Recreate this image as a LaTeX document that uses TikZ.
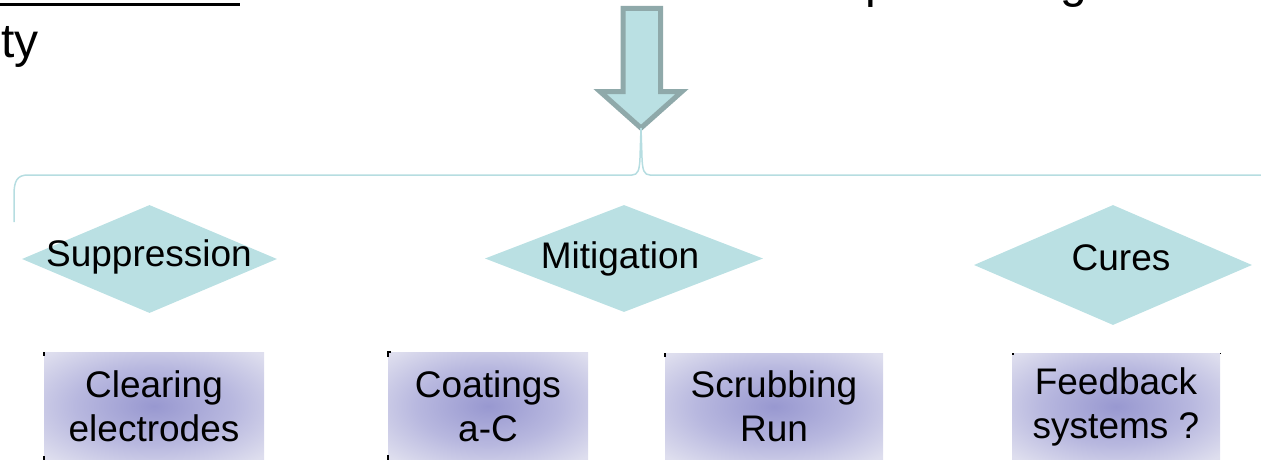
\documentclass[tikz,border=0pt]{standalone}
\usepackage{fontspec}
\setmainfont{Liberation Sans}
\usetikzlibrary{shapes.geometric}

\definecolor{diafill}{RGB}{186,224,227}
\definecolor{arrowline}{RGB}{143,169,170}
\definecolor{bracecol}{RGB}{182,221,225}
\definecolor{boxin}{RGB}{152,152,208}
\definecolor{boxmid}{RGB}{184,184,223}
\definecolor{boxout}{RGB}{222,222,238}

\pgfdeclareradialshading{boxglow}{\pgfpoint{0bp}{0bp}}{%
  color(0bp)=(boxin); color(18bp)=(boxmid); color(34bp)=(boxout); color(50bp)=(boxout)}

\tikzset{
  dia/.style={diamond, fill=diafill, draw=none, inner sep=0pt},
  lbl/.style={font=\fontsize{37}{44}\selectfont, text=black, inner sep=0pt, anchor=base},
  box/.style={shading=boxglow, draw=none, inner sep=0pt, align=center,
              font=\fontsize{37}{44}\selectfont, text=black},
  title/.style={font=\fontsize{48}{56}\selectfont, text=black, inner sep=0pt, anchor=base west},
  tick/.style={black, line width=1.2pt},
  brace/.style={draw=bracecol, line width=1.5pt},
  bigarrow/.style={fill=diafill, draw=arrowline, line width=5pt, line join=miter},
}

\begin{document}
\begin{tikzpicture}[x=1pt,y=-1pt]
\useasboundingbox (0,0) rectangle (1261,460);
\clip (0,0) rectangle (1261,460);

% heading remnants
\draw[line width=3pt] (0,4.5) -- (240,4.5);
\node[title] (ty) at (1,58) {ty};
\node[title] (hp) at (865,-2) {p};
\node[title] (hg) at (1060,-2) {g};

% downward block arrow
\coordinate (tip) at (641,128);
\draw[bigarrow] (623,8.5) -- (660.5,8.5) -- (660.5,91.5) -- (682,91.5) -- (tip)
  -- (600,91.5) -- (623,91.5) -- cycle;

% horizontal brace hanging from the arrow tip
\draw[brace] (14,222) -- (14,195) .. controls (14,181) and (17,175) .. (28,175)
  -- (632,175) .. controls (638,175) and (639.5,170) .. (640,158) -- (tip);
\draw[brace] (tip) -- (642,158) .. controls (642.5,170) and (644,175) .. (650,175)
  -- (1275,175);

% category diamonds
\node[dia, minimum width=255pt, minimum height=108pt] (sup) at (149.5,259) {};
\node[lbl] (supt) at (149,266) {Suppression};
\node[dia, minimum width=278pt, minimum height=107pt] (mit) at (624,258.5) {};
\node[lbl] (mitt) at (620,268) {Mitigation};
\node[dia, minimum width=278pt, minimum height=120pt] (cur) at (1113,265) {};
\node[lbl] (curt) at (1121,270) {Cures};

% measure boxes
\node[box, minimum width=220pt, minimum height=108pt] (clr) at (154,406) {Clearing\\electrodes};
\node[box, minimum width=200pt, minimum height=108pt] (coa) at (488,406) {Coatings\\a-C};
\node[box, minimum width=218pt, minimum height=107pt] (scr) at (774,406.5) {Scrubbing\\Run};
\node[box, minimum width=208pt, minimum height=107pt] (fbk) at (1116,406.5) {Feedback\\systems ?};

% small corner marks
\draw[tick] (44,352) -- (44,356);
\draw[tick] (44,456) -- (44,460);
\draw[tick] (391,352) -- (388,352) -- (388,356.5);
\draw[tick] (388,455) -- (388,460);
\draw[tick] (665,353) -- (665,357);
\fill[black] (1011.5,352.5) rectangle (1014,355);
\fill[black] (1219.5,352.5) rectangle (1220.5,354);
\end{tikzpicture}
\end{document}
